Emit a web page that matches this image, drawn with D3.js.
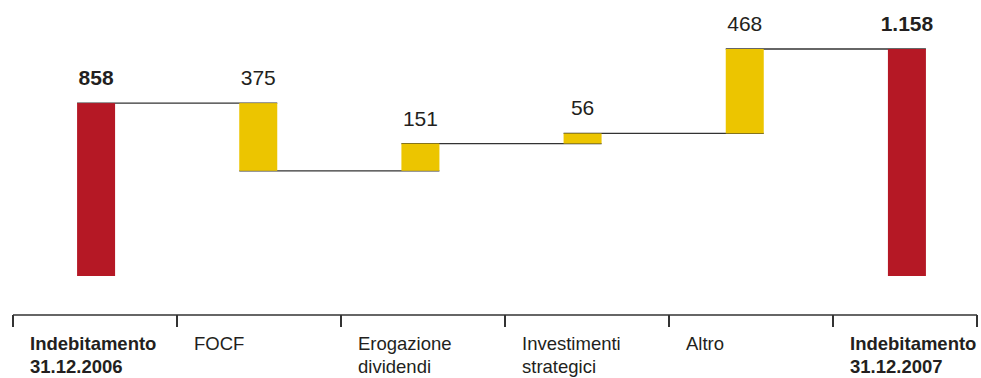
<!DOCTYPE html>
<html>
<head>
<meta charset="utf-8">
<script src="https://cdn.jsdelivr.net/npm/d3@7"></script>
<style>
  body { margin: 0; background: #fff; }
  svg text { font-family: "Liberation Sans", Arial, sans-serif; fill: #231f20; }
</style>
</head>
<body>
<div id="chart"></div>
<script>
// categories, two lines each
var categories = [
	["Indebitamento", "31.12.2006"],
	["FOCF"],
	["Erogazione", "dividendi"],
	["Investimenti", "strategici"],
	["Altro"],
	["Indebitamento", "31.12.2007"]
];
var kinds = ["total", "delta", "delta", "delta", "delta", "total"];
var values = [858, -375, 151, 56, 468, 1158];
var valueLabels = ["858", "375", "151", "56", "468", "1.158"];

var width = 981, height = 378;
var red = "#b51825", yellow = "#ecc500";

var svg = d3.select("#chart").append("svg")
	.attr("width", width)
	.attr("height", height);

var ids = d3.range(categories.length);

// bars sit on a slightly tighter grid than the axis ticks
var xBar = d3.scaleBand().domain(ids).range([15, 988]);
var xTick = d3.scaleBand().domain(ids).range([13, 997]);
var y = d3.scaleLinear().domain([-100, 1158]).range([276, 49]);
var barW = 38;

// running levels for the waterfall
var steps = [];
var level = 0;
values.forEach(function(v, i) {
	if (kinds[i] == "total") {
		steps.push({i: i, from: y.domain()[0], to: v, top: v});
		level = v;
	} else {
		var from = level;
		level = level + v;
		steps.push({i: i, from: from, to: level, top: Math.max(from, level)});
	}
});

function barX(i) { return xBar(i) + xBar.bandwidth() / 2 - barW / 2; }

// connector lines between bars
var conn = svg.append("g");
for (var k = 0; k < steps.length - 1; k++) {
	var lv = steps[k].to;
	conn.append("line")
		.attr("x1", barX(k))
		.attr("x2", barX(k + 1) + barW)
		.attr("y1", y(lv))
		.attr("y2", y(lv))
		.attr("stroke", "#333")
		.attr("stroke-width", 1.3);
}

// bars
svg.append("g").selectAll("rect")
	.data(steps)
	.join("rect")
	.attr("x", function(d) { return barX(d.i); })
	.attr("width", barW)
	.attr("y", function(d) { return y(Math.max(d.from, d.to)); })
	.attr("height", function(d) { return Math.abs(y(d.from) - y(d.to)); })
	.attr("fill", function(d) { return kinds[d.i] == "total" ? red : yellow; });

// value labels
svg.append("g").selectAll("text")
	.data(steps)
	.join("text")
	.attr("x", function(d) { return barX(d.i) + barW / 2; })
	.attr("y", function(d) { return y(d.top) - 18; })
	.attr("text-anchor", "middle")
	.style("font-size", "21px")
	.style("font-weight", function(d) { return kinds[d.i] == "total" ? "bold" : "normal"; })
	.text(function(d) { return valueLabels[d.i]; });

// category axis
var axisY = 315;
var axisRight = 977;
svg.append("line")
	.attr("x1", xTick(0)).attr("x2", axisRight)
	.attr("y1", axisY).attr("y2", axisY)
	.attr("stroke", "#333").attr("stroke-width", 1.5);

var tickXs = ids.map(function(i) { return xTick(i); }).concat([axisRight]);
svg.append("g").selectAll("line")
	.data(tickXs)
	.join("line")
	.attr("x1", function(d) { return d; })
	.attr("x2", function(d) { return d; })
	.attr("y1", axisY)
	.attr("y2", axisY + 12)
	.attr("stroke", "#333")
	.attr("stroke-width", 2);

var labels = svg.append("g").selectAll("text")
	.data(ids)
	.join("text")
	.attr("x", function(i) { return xTick(i) + 17; })
	.attr("y", 350)
	.style("font-size", "18.5px")
	.style("font-weight", function(i) { return kinds[i] == "total" ? "bold" : "normal"; });

labels.selectAll("tspan")
	.data(function(i) { return categories[i]; })
	.join("tspan")
	.attr("x", function() { return d3.select(this.parentNode).attr("x"); })
	.attr("dy", function(d, j) { return j == 0 ? 0 : 23; })
	.text(function(d) { return d; });
</script>
</body>
</html>
